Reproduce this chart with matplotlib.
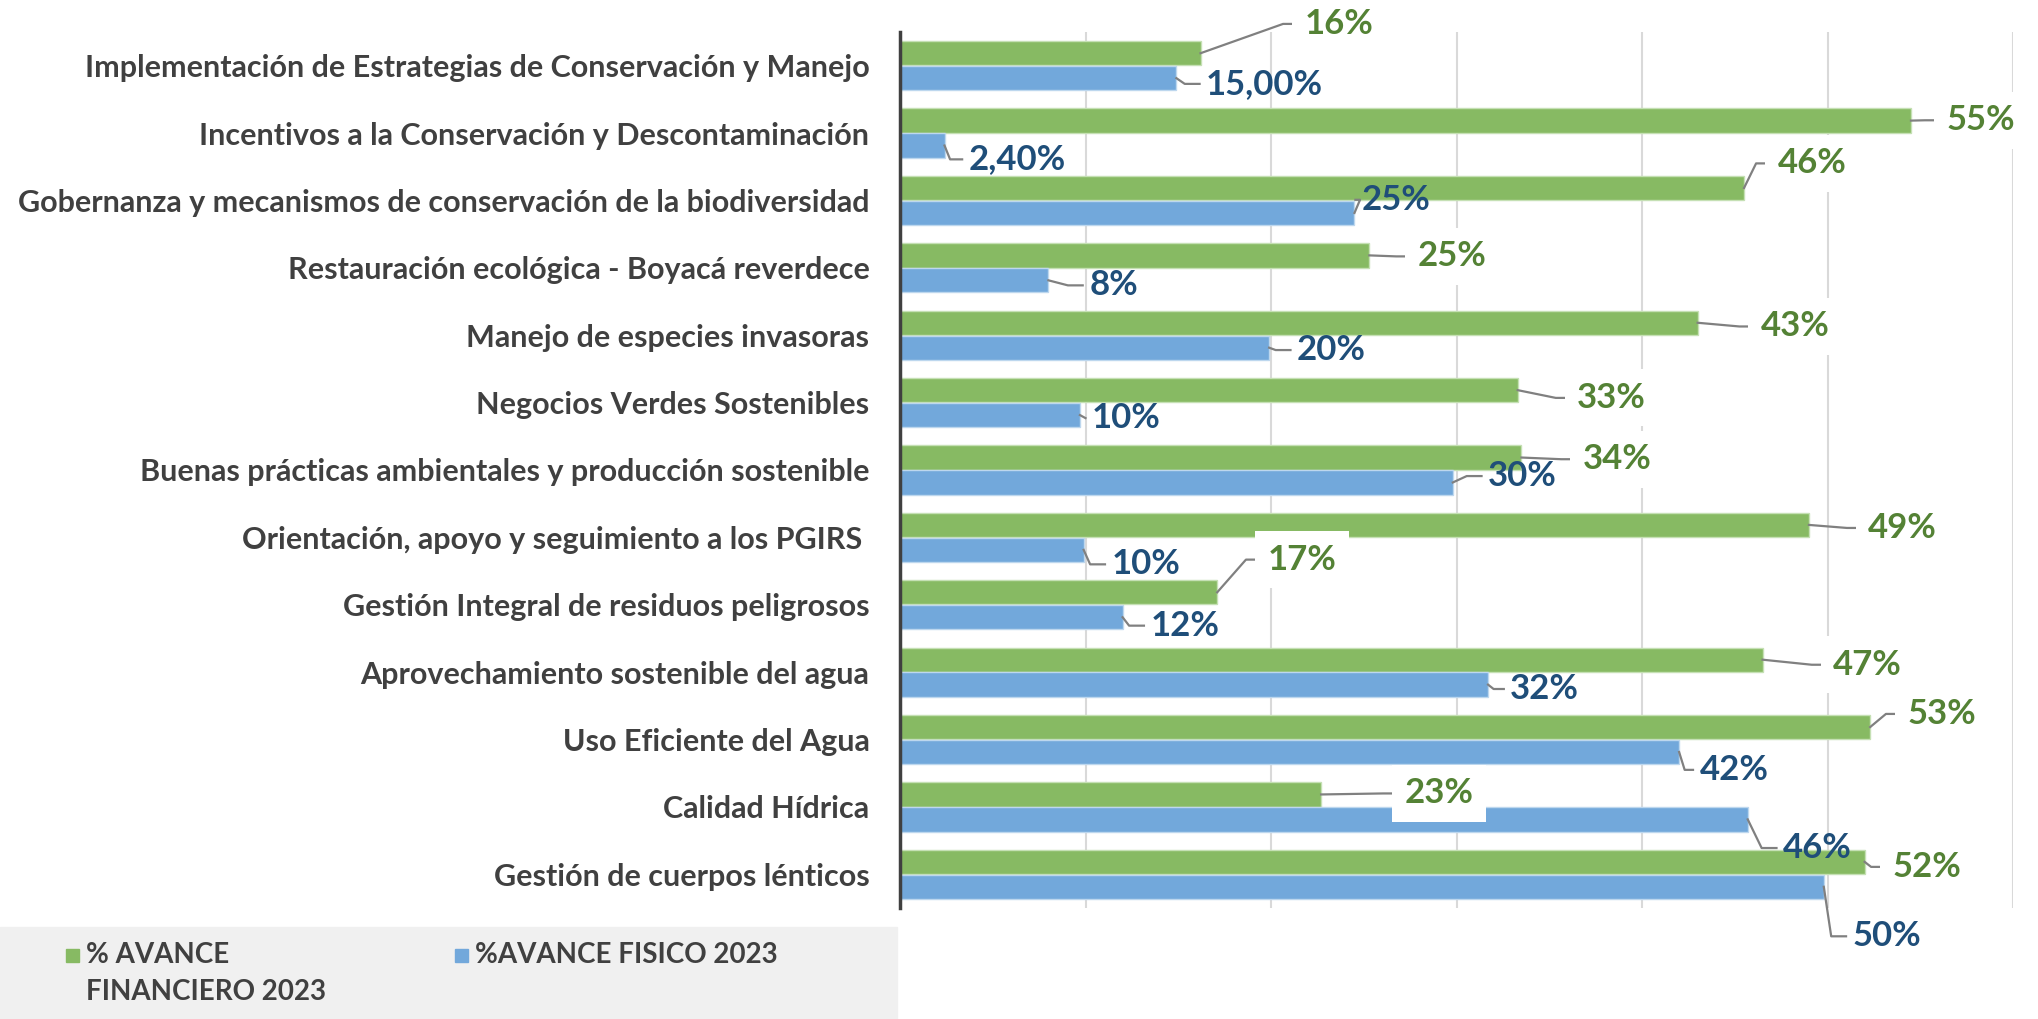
import matplotlib
matplotlib.use("Agg")
import matplotlib.pyplot as plt
from matplotlib.patches import Rectangle

# --------------------
# Datos
# --------------------
categorias = [
    "Implementación de Estrategias de Conservación y Manejo",
    "Incentivos a la Conservación y Descontaminación",
    "Gobernanza y mecanismos de conservación de la biodiversidad",
    "Restauración ecológica - Boyacá reverdece",
    "Manejo de especies invasoras",
    "Negocios Verdes Sostenibles",
    "Buenas prácticas ambientales y producción sostenible",
    "Orientación, apoyo y seguimiento a los PGIRS ",
    "Gestión Integral de residuos peligrosos",
    "Aprovechamiento sostenible del agua",
    "Uso Eficiente del Agua",
    "Calidad Hídrica",
    "Gestión de cuerpos lénticos",
]
# valores (las etiquetas estan redondeadas)
financiero = [16.2, 54.5, 45.5, 25.3, 43.0, 33.3, 33.5, 49.0, 17.1, 46.5, 52.3, 22.7, 52.0]
fisico = [14.9, 2.4, 24.5, 8.0, 19.9, 9.7, 29.8, 9.9, 12.0, 31.7, 42.0, 45.7, 49.8]
etiq_fin = ["16%", "55%", "46%", "25%", "43%", "33%", "34%", "49%", "17%", "47%", "53%", "23%", "52%"]
etiq_fis = ["15,00%", "2,40%", "25%", "8%", "20%", "10%", "30%", "10%", "12%", "32%", "42%", "46%", "50%"]
serie_fin = "% AVANCE\nFINANCIERO 2023"
serie_fis = "%AVANCE FISICO 2023"

# posiciones de las etiquetas (x en %, y en unidades de categoria)
pos_fin = [(21.8, -0.62), (56.4, 0.81), (47.3, 1.45), (27.9, 2.83), (46.4, 3.87),
           (36.5, 4.93), (36.8, 5.84), (52.2, 6.86), (19.8, 7.33), (50.3, 8.89),
           (54.3, 9.62), (27.2, 10.80), (53.5, 11.89)]
pos_fis = [(16.5, 0.27), (3.7, 1.39), (24.9, 1.99), (10.2, 3.26), (21.4, 4.22),
           (10.35, 5.23), (31.7, 6.09), (11.4, 7.40), (13.5, 8.31), (32.9, 9.25),
           (43.1, 10.45), (47.6, 11.61), (51.35, 12.92)]

verde = "#87BA63"
azul = "#72A8DB"
verde_txt = "#548235"
azul_txt = "#1F4E79"
gris_txt = "#404040"
fuente = ["Lato", "DejaVu Sans"]

# --------------------
# Grafico
# --------------------
fig = plt.figure(figsize=(20.38, 10.19), dpi=100)
ax = fig.add_axes([900 / 2038, 1 - 908 / 1019, 1113 / 2038, 876 / 1019])

n = len(categorias)
y = list(range(n))
h = 0.36
ax.barh([i - 0.185 for i in y], financiero, height=h, color=verde,
        edgecolor="#C5E0B4", linewidth=1, zorder=2)
ax.barh([i + 0.185 for i in y], fisico, height=h, color=azul,
        edgecolor="#BDD7EE", linewidth=1, zorder=2)

ax.set_xlim(0, 60)
ax.set_ylim(n - 0.5, -0.5)
ax.set_xticks(range(10, 61, 10))
ax.set_xticklabels([])
ax.tick_params(axis="x", length=0)
ax.grid(axis="x", color="#D9D9D9", linewidth=1.5, zorder=0)
ax.set_yticks(y)
ax.set_yticklabels(categorias, family=fuente, fontsize=22, fontweight="bold",
                   color=gris_txt)
ax.tick_params(axis="y", length=0, pad=22)
for s in ["top", "right", "bottom"]:
    ax.spines[s].set_visible(False)
ax.spines["left"].set_color("#404040")
ax.spines["left"].set_linewidth(2.5)
ax.spines["left"].set_zorder(3)


def etiqueta(xb, yb, pos, txt, color, caja):
    lx, ly = pos
    x1 = lx - 0.35
    x0 = x1 - 0.8
    if x0 < xb + 0.3:
        x0 = xb + 0.3
    ax.plot([xb, x0, x1], [yb, ly, ly], color="#808080", linewidth=1.6,
            zorder=4, clip_on=False)
    bbox = dict(facecolor="white", edgecolor="none", pad=9) if caja else None
    ax.text(lx, ly, txt, family=fuente, fontsize=25, fontweight="bold",
            color=color, va="center", ha="left", zorder=5, clip_on=False,
            bbox=bbox)


for i in range(n):
    etiqueta(financiero[i], i - 0.185, pos_fin[i], etiq_fin[i], verde_txt, True)
for i in range(n):
    etiqueta(fisico[i], i + 0.185, pos_fis[i], etiq_fis[i], azul_txt, False)

# leyenda
fig.patches.append(Rectangle((0, 0), 897 / 2038, 1 - 927 / 1019,
                             transform=fig.transFigure, color="#F0F0F0",
                             zorder=0))
fig.patches.append(Rectangle((66 / 2038, 1 - 962 / 1019), 13 / 2038, 13 / 1019,
                             transform=fig.transFigure, color=verde))
fig.patches.append(Rectangle((455 / 2038, 1 - 962 / 1019), 13 / 2038, 13 / 1019,
                             transform=fig.transFigure, color=azul))
fig.text(86 / 2038, 1 - 942 / 1019, serie_fin, family=fuente, fontsize=20,
         fontweight="bold", color=gris_txt, va="top", ha="left", linespacing=1.5)
fig.text(475 / 2038, 1 - 942 / 1019, serie_fis, family=fuente, fontsize=20,
         fontweight="bold", color=gris_txt, va="top", ha="left")

fig.savefig("out.png", dpi=100)
